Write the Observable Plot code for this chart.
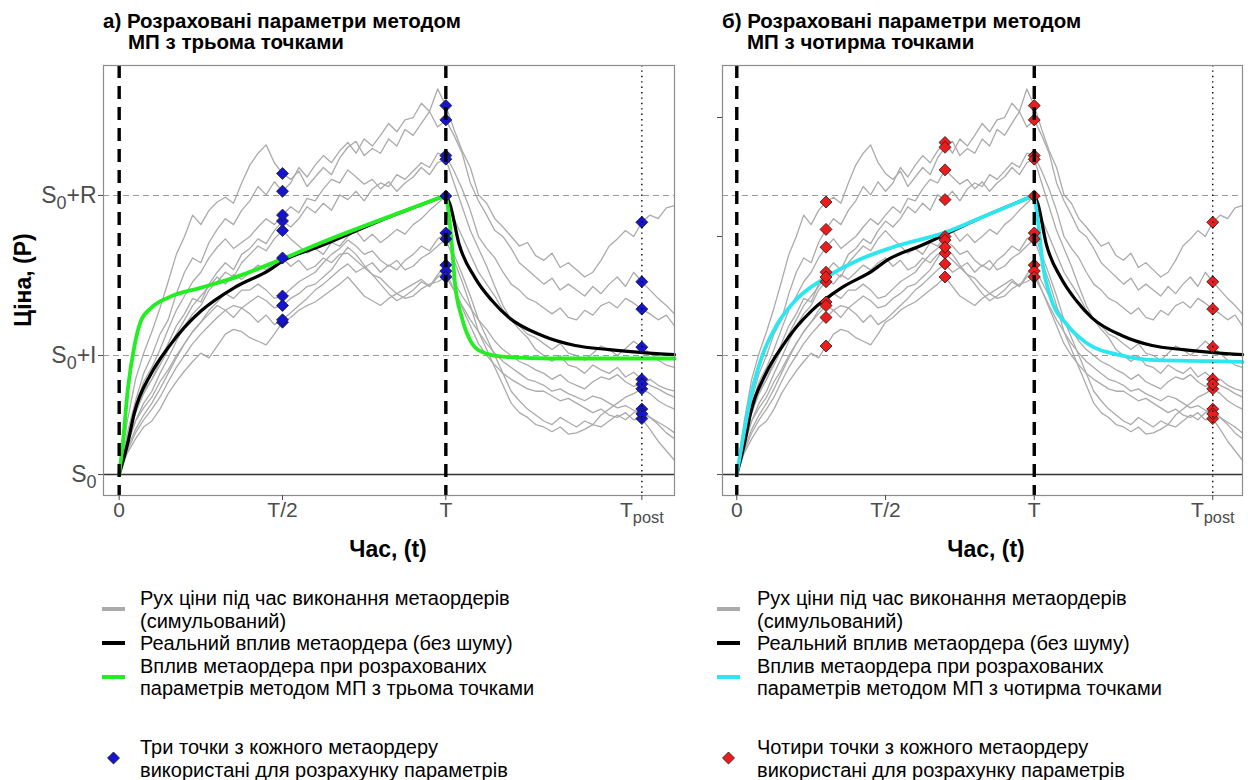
<!DOCTYPE html>
<html><head><meta charset="utf-8">
<script src="https://cdn.jsdelivr.net/npm/d3@7"></script>
<script src="https://cdn.jsdelivr.net/npm/@observablehq/plot@0.6"></script>
<style>
body{margin:0;background:#fff;width:1248px;height:780px;overflow:hidden;font-family:"Liberation Sans",Arial,sans-serif;}
#wrap{position:relative;width:1248px;height:780px;}
.title{position:absolute;font-weight:bold;font-size:20.5px;line-height:21px;color:#000;white-space:nowrap;}
.title .l2{padding-left:25px;}
.panel{position:absolute;top:60px;}
.axt{position:absolute;font-weight:bold;font-size:23px;color:#000;white-space:nowrap;transform:translate(-50%,-50%);}
.axt.rot{transform:translate(-50%,-50%) rotate(-90deg);}
.legend{position:absolute;font-size:20px;line-height:22.5px;color:#000;white-space:nowrap;}
#keys{position:absolute;left:0;top:0;pointer-events:none;}
</style>
</head><body><div id="wrap">
<div class="title" style="left:103px;top:10px;">а) Розраховані параметри методом<br><span class="l2">МП з трьома точками</span></div>
<div class="title" style="left:722px;top:10px;">б) Розраховані параметри методом<br><span class="l2">МП з чотирма точками</span></div>
<div id="left" class="panel" style="left:0px;"></div>
<div id="right" class="panel" style="left:690px;"></div>
<div class="axt rot" style="left:23px;top:280px;">Ціна, (P)</div>
<div class="axt" style="left:388px;top:549px;">Час, (t)</div>
<div class="axt" style="left:986px;top:549px;">Час, (t)</div>
<div class="legend" style="left:140px;top:587px;">Рух ціни під час виконання метаордерів<br>(симульований)<br>Реальний вплив метаордера (без шуму)<br>Вплив метаордера при розрахованих<br>параметрів методом МП з трьома точками</div>
<div class="legend" style="left:140px;top:736px;">Три точки з кожного метаордеру<br>використані для розрахунку параметрів</div>
<div class="legend" style="left:757px;top:587px;">Рух ціни під час виконання метаордерів<br>(симульований)<br>Реальний вплив метаордера (без шуму)<br>Вплив метаордера при розрахованих<br>параметрів методом МП з чотирма точками</div>
<div class="legend" style="left:757px;top:736px;">Чотири точки з кожного метаордеру<br>використані для розрахунку параметрів</div>
<svg id="keys" width="1248" height="780"></svg>
</div>
<script>
// ---------- data ----------
const R = 2.345, I = 1, Tpost = 1.6;
const xTicks = [0, 0.5, 1, 1.6];
const xTickLabels = ["0", "T/2", "T", "Tpost"];
const yTicksLeft = [0, 1, 2.345];
const yTickLabelsLeft = ["S0", "S0+I", "S0+R"];
const yTicksRight = [0, 1, 2, 3];

// simulated price paths, sampled every 0.025 T (t = 0 ... 1.7 T)
const tStep = 0.025;
const path1 = [0,0.35,0.62,0.85,1.00, 1.18,1.30,1.52,1.70, 1.82,1.78,1.95,2.06, 2.15,2.10,2.22,2.30, 2.42,2.35,2.46,2.38, 2.45,2.58,2.50,2.60, 2.68,2.62,2.72,2.79, 2.70,2.82,2.76,2.85, 2.95,2.88,2.98,3.00, 3.12,3.05,3.24,3.10, 2.90,2.72,2.58,2.35, 2.28,2.15,2.08,2.00, 1.92,1.95,1.84,1.80, 1.86,1.74,1.78,1.72, 1.66,1.70,1.80,1.92, 1.98,2.05,2.00,2.12, 2.18,2.15,2.24,2.26];
const path2 = [0,0.45,0.80,1.02,1.20, 1.40,1.62,1.85,2.00, 2.18,2.10,2.22,2.29, 2.33,2.28,2.45,2.60, 2.70,2.77,2.62,2.53, 2.48,2.55,2.42,2.50, 2.58,2.52,2.66,2.75, 2.80,2.68,2.74,2.70, 2.82,2.76,2.90,2.85, 2.95,3.05,2.92,2.98, 2.85,2.70,2.45,2.30, 2.18,2.05,2.00,1.90, 1.78,1.72,1.66,1.60, 1.65,1.55,1.60,1.55, 1.50,1.58,1.52,1.60, 1.66,1.58,1.70,1.62, 1.55,1.48,1.42,1.35];
const path3 = [0,0.30,0.52,0.70,0.80, 0.95,1.10,1.25,1.35, 1.48,1.45,1.60,1.70, 1.78,1.72,1.85,1.90, 1.98,1.94,2.05,2.13, 2.08,2.15,2.25,2.20, 2.28,2.22,2.35,2.31, 2.38,2.30,2.40,2.45, 2.42,2.52,2.48,2.55, 2.62,2.58,2.70,2.68, 2.55,2.40,2.22,2.00, 1.90,1.82,1.70,1.60, 1.55,1.48,1.45,1.40, 1.35,1.40,1.32,1.30, 1.38,1.34,1.42,1.45, 1.40,1.48,1.44,1.39, 1.35,1.30,1.34,1.25];
const path4 = [0,0.32,0.58,0.78,0.90, 1.05,1.22,1.38,1.50, 1.62,1.70,1.82,1.91, 1.98,1.90,1.95,2.00, 2.08,2.15,2.10,2.18, 2.25,2.20,2.32,2.30, 2.40,2.48,2.45,2.56, 2.50,2.44,2.48,2.40, 2.46,2.38,2.45,2.50, 2.58,2.52,2.62,2.65, 2.45,2.25,2.05,1.90, 1.75,1.58,1.42,1.30, 1.22,1.15,1.05,1.00, 0.95,1.00,0.92,0.90, 0.85,0.92,0.88,0.85, 0.90,0.82,0.86,0.80, 0.75,0.72,0.68,0.65];
const path5 = [0,0.25,0.45,0.60,0.70, 0.85,0.98,1.12,1.25, 1.35,1.42,1.55,1.62, 1.70,1.66,1.78,1.85, 1.92,1.88,1.98,2.05, 1.98,1.92,1.86,1.90, 1.85,1.95,1.92,2.00, 2.05,1.96,2.02,1.95, 2.00,2.06,2.02,2.10, 2.15,2.22,2.28,2.34, 2.15,2.00,1.85,1.70, 1.60,1.50,1.38,1.30, 1.25,1.18,1.15,1.10, 1.05,1.10,1.02,1.00, 0.96,1.02,1.08,1.05, 1.00,1.06,1.12,1.07, 1.02,0.96,0.92,0.90];
const path6 = [0,0.30,0.52,0.68,0.80, 0.92,1.05,1.18,1.30, 1.42,1.50,1.58,1.66, 1.60,1.68,1.64,1.70, 1.76,1.72,1.78,1.82, 1.75,1.80,1.72,1.75, 1.82,1.78,1.85,1.86, 1.80,1.74,1.78,1.70, 1.76,1.72,1.80,1.85, 1.92,1.88,1.98,2.03, 1.85,1.68,1.50,1.30, 1.15,1.00,0.85,0.70, 0.62,0.55,0.50,0.45, 0.42,0.48,0.44,0.40, 0.45,0.42,0.50,0.55, 0.60,0.65,0.68,0.72, 0.68,0.62,0.58,0.55];
const path7 = [0,0.22,0.38,0.50,0.60, 0.72,0.85,0.98,1.10, 1.20,1.28,1.38,1.45, 1.52,1.48,1.55,1.55, 1.60,1.55,1.48,1.50, 1.56,1.62,1.66,1.70, 1.78,1.85,1.90,1.97, 1.92,1.85,1.88,1.80, 1.75,1.80,1.72,1.75, 1.82,1.86,1.92,1.98, 1.80,1.62,1.42,1.20, 1.05,0.90,0.75,0.60, 0.52,0.48,0.42,0.40, 0.36,0.40,0.34,0.35, 0.38,0.42,0.40,0.45, 0.50,0.46,0.52,0.55, 0.48,0.42,0.35,0.30];
const path8 = [0,0.20,0.35,0.46,0.55, 0.65,0.78,0.90,1.00, 1.10,1.18,1.25,1.32, 1.38,1.42,1.40,1.45, 1.50,1.46,1.40,1.42, 1.48,1.52,1.58,1.60, 1.66,1.72,1.82,1.91, 1.85,1.76,1.68,1.60, 1.52,1.46,1.50,1.55, 1.62,1.58,1.68,1.76, 1.62,1.50,1.40,1.30, 1.22,1.12,1.05,1.00, 0.95,0.92,0.88,0.85, 0.80,0.84,0.78,0.75, 0.72,0.78,0.82,0.80, 0.84,0.78,0.74,0.76, 0.80,0.75,0.72,0.70];
const path9 = [0,0.18,0.30,0.40,0.45, 0.55,0.68,0.78,0.87, 0.95,1.02,0.98,1.08, 1.18,1.22,1.20,1.15, 1.12,1.09,1.18,1.28, 1.32,1.38,1.42,1.45, 1.50,1.55,1.60,1.66, 1.58,1.50,1.46,1.42, 1.48,1.52,1.56,1.60, 1.64,1.58,1.66,1.71, 1.55,1.40,1.25,1.10, 1.00,0.92,0.85,0.80, 0.76,0.72,0.70,0.70, 0.66,0.62,0.64,0.60, 0.56,0.52,0.55,0.50, 0.48,0.52,0.46,0.47, 0.38,0.28,0.20,0.12];
const path10 = [0,0.26,0.45,0.56,0.65, 0.78,0.88,1.00,1.10, 1.20,1.28,1.35,1.42, 1.38,1.32,1.40,1.35, 1.28,1.34,1.26,1.30, 1.36,1.42,1.48,1.55, 1.60,1.66,1.72,1.77, 1.70,1.74,1.68,1.65, 1.58,1.52,1.48,1.50, 1.56,1.60,1.62,1.66, 1.55,1.42,1.30,1.20, 1.10,1.02,0.95,0.90, 0.85,0.80,0.78,0.75, 0.70,0.72,0.68,0.65, 0.62,0.66,0.64,0.60, 0.56,0.58,0.54,0.51, 0.48,0.44,0.40,0.35];
const paths = [path1, path2, path3, path4, path5, path6, path7, path8, path9, path10];

// sample indices (into the 0.025 grid) used as observation points
const obsLeft = [20, 40, 64];        // T/2, T, Tpost
const obsRight = [12, 28, 40, 64];   // 0.3T, 0.7T, T, Tpost

// true impact (noise-free), before and after T
const truePreT  = [0, 0.028, 0.046, 0.098, 0.150, 0.199, 0.252, 0.353, 0.457, 0.503, 0.620, 0.800, 1.000];
const truePreP  = [0, 0.286, 0.513, 0.849, 1.067, 1.235, 1.378, 1.571, 1.714, 1.798, 1.924, 2.135, 2.345];
const truePostT = [1.000, 1.012, 1.040, 1.089, 1.141, 1.193, 1.294, 1.396, 1.500, 1.604, 1.700];
const truePostP = [2.345, 2.277, 1.941, 1.655, 1.462, 1.319, 1.168, 1.084, 1.050, 1.025, 1.008];

// fitted impact, MP with three points
const mp3PreT  = [0, 0.011, 0.027, 0.046, 0.067, 0.098, 0.150, 0.252, 0.353, 0.503, 0.620, 0.800, 1.000];
const mp3PreP  = [0, 0.26, 0.73, 1.07, 1.294, 1.40, 1.487, 1.571, 1.655, 1.815, 1.95, 2.14, 2.345];
const mp3PostT = [1.000, 1.009, 1.018, 1.028, 1.049, 1.080, 1.101, 1.172, 1.325, 1.700];
const mp3PostP = [2.345, 2.193, 1.941, 1.605, 1.319, 1.101, 1.043, 0.990, 0.975, 0.975];

// fitted impact, MP with four points
const mp4PreT  = [0, 0.027, 0.051, 0.086, 0.133, 0.192, 0.300, 0.404, 0.522, 0.699, 0.850, 1.000];
const mp4PreP  = [0, 0.39, 0.70, 1.00, 1.25, 1.45, 1.657, 1.797, 1.908, 2.033, 2.19, 2.345];
const mp4PostT = [1.000, 1.012, 1.029, 1.053, 1.112, 1.171, 1.289, 1.407, 1.601, 1.700];
const mp4PostP = [2.345, 2.14, 1.755, 1.504, 1.253, 1.114, 1.003, 0.961, 0.953, 0.947];

// ---------- build ----------
const pathRows = paths.flatMap((p, k) => p.map((v, i) => ({id: k, t: i * tStep, v})));
const obsRows = idx => paths.flatMap(p => idx.map(i => ({t: i * tStep, v: p[i]})));
const segRows = (preT, preP, postT, postP) => [
  ...preT.map((t, i) => ({seg: "pre", t, v: preP[i]})),
  ...postT.map((t, i) => ({seg: "post", t, v: postP[i]}))
];
const trueRows = segRows(truePreT, truePreP, truePostT, truePostP);
const mp3Rows = segRows(mp3PreT, mp3PreP, mp3PostT, mp3PostP);
const mp4Rows = segRows(mp4PreT, mp4PreP, mp4PostT, mp4PostP);

const xLabel = new Map(xTicks.map((d, i) => [d, xTickLabels[i]]));
const yLabelL = new Map(yTicksLeft.map((d, i) => [d, yTickLabelsLeft[i]]));

const FONT = "Liberation Sans, Arial, sans-serif";
function panel({width, marginLeft, marginRight, fitRows, fitColor, obs, ptFill, yTicks, yFmt}) {
  return Plot.plot({
    width, height: 500, marginLeft, marginRight, marginTop: 5, marginBottom: 65,
    x: {domain: [-0.048, 1.70]},
    y: {domain: [-0.176, 3.437]},
    style: {fontFamily: FONT, fontSize: "21px", color: "#4d4d4d", background: "transparent"},
    marks: [
      Plot.line(pathRows, {x: "t", y: "v", z: "id", stroke: "#ababab", strokeWidth: 1.3}),
      Plot.ruleY([R, I], {stroke: "#9a9a9a", strokeWidth: 1.1, strokeDasharray: "6,4"}),
      Plot.ruleY([0], {stroke: "#333", strokeWidth: 1.6}),
      Plot.line(trueRows, {x: "t", y: "v", z: "seg", stroke: "black", strokeWidth: 3.2, curve: "monotone-x"}),
      Plot.line(fitRows, {x: "t", y: "v", z: "seg", stroke: fitColor, strokeWidth: 3.8, curve: "monotone-x"}),
      Plot.dot(obsRows(obs), {x: "t", y: "v", symbol: "diamond2", r: 5.4, fill: ptFill, stroke: "#1a1a1a", strokeWidth: 0.8}),
      Plot.ruleX([0, 1], {stroke: "black", strokeWidth: 3.4, strokeDasharray: "13,8"}),
      Plot.ruleX([Tpost], {stroke: "black", strokeWidth: 1.4, strokeDasharray: "1.4,4"}),
      Plot.frame({stroke: "#8c8c8c", strokeWidth: 1.2}),
      Plot.axisX({ticks: xTicks, tickFormat: d => xLabel.get(d), tickSize: 5, tickPadding: 2, fontSize: 21, label: null}),
      Plot.axisY({ticks: yTicks, tickFormat: yFmt, tickSize: 5, tickPadding: 2, fontSize: 23, label: null})
    ]
  });
}

const subs = {"S0": ["S", "0", ""], "S0+I": ["S", "0", "+I"], "S0+R": ["S", "0", "+R"], "Tpost": ["T", "post", ""]};
function subscript(svg) {
  d3.select(svg).selectAll("text").each(function() {
    const m = subs[this.textContent];
    if (!m) return;
    const el = d3.select(this);
    el.text(null);
    el.append("tspan").text(m[0]);
    el.append("tspan").attr("dy", 6).attr("font-size", "0.78em").text(m[1]);
    if (m[2]) el.append("tspan").attr("dy", -6).text(m[2]);
  });
  return svg;
}

const left = panel({width: 690, marginLeft: 103, marginRight: 16, fitRows: mp3Rows, fitColor: "#22ee22",
  obs: obsLeft, ptFill: "#1515cf", yTicks: yTicksLeft, yFmt: d => yLabelL.get(d)});
const right = panel({width: 558, marginLeft: 32, marginRight: 6, fitRows: mp4Rows, fitColor: "#2de6f0",
  obs: obsRight, ptFill: "#ec1c1c", yTicks: yTicksRight, yFmt: () => ""});
document.getElementById("left").append(subscript(left));
document.getElementById("right").append(subscript(right));

// legend keys
const keys = d3.select("#keys");
function keySet(x0, fit, fill) {
  keys.append("line").attr("x1", x0).attr("x2", x0 + 23).attr("y1", 609).attr("y2", 609).attr("stroke", "#ababab").attr("stroke-width", 4);
  keys.append("line").attr("x1", x0).attr("x2", x0 + 23).attr("y1", 643).attr("y2", 643).attr("stroke", "black").attr("stroke-width", 4);
  keys.append("line").attr("x1", x0).attr("x2", x0 + 23).attr("y1", 677).attr("y2", 677).attr("stroke", fit).attr("stroke-width", 4);
  keys.append("path").attr("d", d3.symbol(d3.symbolDiamond2, 5.4 * 5.4 * Math.PI)()).attr("transform", `translate(${x0 + 11.5},758)`)
    .attr("fill", fill).attr("stroke", "#1a1a1a").attr("stroke-width", 0.8);
}
keySet(102, "#22ee22", "#1515cf");
keySet(717, "#2de6f0", "#ec1c1c");
</script>
</body></html>
